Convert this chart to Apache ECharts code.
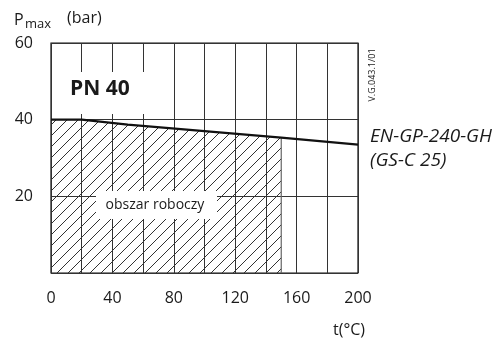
<!DOCTYPE html>
<html>
<head>
<meta charset="utf-8">
<script src="https://cdn.jsdelivr.net/npm/echarts@6/dist/echarts.min.js"></script>
<style>
  html, body { margin: 0; padding: 0; background: #fff; }
  #chart { width: 501px; height: 345px; }
</style>
</head>
<body>
<div id="chart"></div>
<script>
// temperature (°C) and max pressure (bar)
var tempPoints = [0, 20, 50, 100, 150, 200];
var pmaxPoints = [40, 40, 38.7, 37.0, 35.3, 33.5];
// working area ends at 150 °C
var workTemps = [0, 20, 50, 100, 150];
var workPmax = [40, 40, 38.7, 37.0, 35.3];
var xTickLabels = [0, 40, 80, 120, 160, 200];
var yTickLabels = [20, 40, 60];

var fontFam = "'Open Sans', 'Noto Sans', sans-serif";

// ukośne kreskowanie
function hatchCanvas() {
  var s = 11;
  var c = document.createElement('canvas');
  c.width = s;
  c.height = s;
  var ctx = c.getContext('2d');
  ctx.strokeStyle = '#333';
  ctx.lineWidth = 1;
  ctx.beginPath();
  ctx.moveTo(-1, s + 1);
  ctx.lineTo(s + 1, -1);
  ctx.moveTo(-1, 1);
  ctx.lineTo(1, -1);
  ctx.moveTo(s - 1, s + 1);
  ctx.lineTo(s + 1, s - 1);
  ctx.stroke();
  return c;
}

var curve = tempPoints.map(function (t, i) { return [t, pmaxPoints[i]]; });
var area = workTemps.map(function (t, i) { return [t, workPmax[i]]; });
var lastT = workTemps[workTemps.length - 1];
var edge = [[lastT, 0], [lastT, workPmax[workPmax.length - 1]]];

var myChart = echarts.init(document.getElementById('chart'));
var option = {
  animation: false,
  grid: {
    left: 51,
    right: 143,
    top: 43,
    bottom: 72,
    show: true,
    borderColor: '#111',
    borderWidth: 1.2
  },
  xAxis: {
    type: 'value',
    min: 0,
    max: 200,
    interval: 20,
    axisLine: { show: false },
    axisTick: { show: false },
    splitLine: { show: true, lineStyle: { color: '#333', width: 1 } },
    axisLabel: {
      margin: 17,
      fontSize: 16,
      fontFamily: fontFam,
      color: '#1a1a1a',
      formatter: function (v) {
        return xTickLabels.indexOf(v) >= 0 ? String(v) : '';
      }
    }
  },
  yAxis: {
    type: 'value',
    min: 0,
    max: 60,
    interval: 20,
    axisLine: { show: false },
    axisTick: { show: false },
    splitLine: { show: true, lineStyle: { color: '#333', width: 1 } },
    axisLabel: {
      margin: 18,
      fontSize: 16,
      fontFamily: fontFam,
      color: '#1a1a1a',
      padding: [5, 0, 0, 0],
      formatter: function (v) {
        return yTickLabels.indexOf(v) >= 0 ? String(v) : '';
      }
    }
  },
  series: [
    {
      type: 'line',
      data: area,
      symbol: 'none',
      lineStyle: { width: 0 },
      areaStyle: {
        color: { image: hatchCanvas(), repeat: 'repeat' },
        opacity: 1
      },
      z: 2
    },
    {
      type: 'line',
      data: edge,
      symbol: 'none',
      lineStyle: { color: '#666', width: 1.2 },
      z: 3
    },
    {
      type: 'line',
      data: curve,
      symbol: 'none',
      lineStyle: { color: '#111', width: 2.2 },
      z: 4
    }
  ],
  graphic: [
    // P_max (bar)
    { type: 'text', left: 14, top: 12, z: 100,
      style: { text: 'P', font: '16px ' + fontFam, fill: '#1a1a1a' } },
    { type: 'text', left: 25, top: 18, z: 100,
      style: { text: 'max', font: '13px ' + fontFam, fill: '#1a1a1a' } },
    { type: 'text', left: 67, top: 10, z: 100,
      style: { text: '(bar)', font: '16px ' + fontFam, fill: '#1a1a1a' } },
    // PN 40
    { type: 'rect', shape: { x: 62, y: 72, width: 98, height: 42 }, z: 100,
      style: { fill: '#fff' } },
    { type: 'text', left: 70, top: 79, z: 101,
      style: { text: 'PN 40', font: 'bold 21px ' + fontFam, fill: '#1a1a1a' } },
    // obszar roboczy
    { type: 'rect', shape: { x: 96, y: 191, width: 121, height: 28 }, z: 100,
      style: { fill: '#fff' } },
    { type: 'text', x: 155, y: 205, z: 101,
      style: { text: 'obszar roboczy', font: '14px ' + fontFam, fill: '#1a1a1a',
        align: 'center', verticalAlign: 'middle' } },
    // material
    { type: 'text', left: 370, top: 127, z: 100,
      style: { text: 'EN-GP-240-GH', font: 'italic 19px ' + fontFam, fill: '#1a1a1a' } },
    { type: 'text', left: 370, top: 151, z: 100,
      style: { text: '(GS-C 25)', font: 'italic 19px ' + fontFam, fill: '#1a1a1a' } },
    // drawing id
    { type: 'text', x: 372, y: 75, rotation: Math.PI / 2, z: 100,
      style: { text: 'V.G.043.1/01', font: '9px ' + fontFam, fill: '#1a1a1a',
        align: 'center', verticalAlign: 'middle' } },
    // t(°C)
    { type: 'text', x: 349, y: 330, z: 100,
      style: { text: 't(°C)', font: '16px ' + fontFam, fill: '#1a1a1a',
        align: 'center', verticalAlign: 'middle' } }
  ]
};
myChart.setOption(option);
window.onresize = myChart.resize;
</script>
</body>
</html>
